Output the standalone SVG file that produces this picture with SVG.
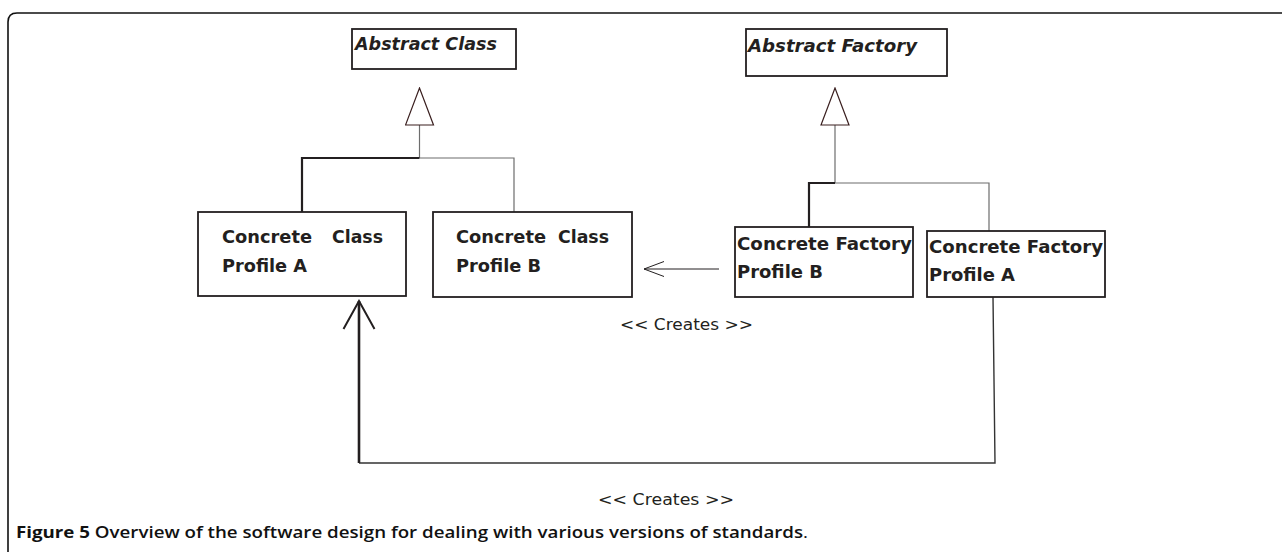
<svg xmlns="http://www.w3.org/2000/svg" width="1282" height="552" viewBox="0 0 1282 552">
<style>
.box{fill:#fff;stroke:#231f20;stroke-width:1.8}
.lbl{font-family:"DejaVu Sans","Verdana",sans-serif;font-weight:bold;font-size:18px;fill:#231f20}
.abs{font-family:"DejaVu Sans","Verdana",sans-serif;font-weight:bold;font-style:italic;font-size:18px;fill:#231f20}
.cr{font-family:"DejaVu Sans","Tahoma",sans-serif;font-size:16px;fill:#231f20}
.thick{fill:none;stroke:#231f20;stroke-width:2.2}
.thin{fill:none;stroke:#6d6d6d;stroke-width:1.2}
.mid{fill:none;stroke:#333;stroke-width:1.4}
.cap{font-family:"Open Sans","Noto Sans",sans-serif;font-size:16px;fill:#111}
</style>
<defs>
<marker id="gen" viewBox="-1 -1 39 30" refX="0" refY="14" markerWidth="39" markerHeight="30" markerUnits="userSpaceOnUse" orient="auto">
<path d="M0,0 L37,14 L0,28 Z" fill="#fff" stroke="#3a1f1f" stroke-width="1.2"/>
</marker>
<marker id="openBig" viewBox="-2 -2 32 36" refX="28" refY="15.5" markerWidth="32" markerHeight="36" markerUnits="userSpaceOnUse" orient="auto">
<path d="M0,0 L28,15.5 L0,31" fill="none" stroke="#231f20" stroke-width="2"/>
</marker>
<marker id="openSmall" viewBox="-2 -2 24 20" refX="20" refY="7.5" markerWidth="24" markerHeight="20" markerUnits="userSpaceOnUse" orient="auto">
<path d="M0,0 L20,7.5 L0,15" fill="none" stroke="#231f20" stroke-width="1"/>
</marker>
</defs>
<rect width="1282" height="552" fill="#fff"/>
<path d="M8,552 V22 Q8,13 17,13 H1282" fill="none" stroke="#111" stroke-width="1.6"/>

<g id="connectors">
<path class="thin" d="M419.5,158 V125" marker-end="url(#gen)"/>
<path class="thick" d="M302,212 V158 H419.5"/>
<path class="thin" d="M419.5,158 H514 V212"/>
<path class="thin" d="M835,183 V125" marker-end="url(#gen)"/>
<path class="thick" d="M809,227 V183 H835"/>
<path class="thin" d="M835,183 H989 V231"/>
<path d="M719,269 H644" fill="none" stroke="#231f20" stroke-width="1" marker-end="url(#openSmall)"/>
<path class="mid" d="M993,297 L995,463 H359"/>
<path d="M359,463 V301" fill="none" stroke="#231f20" stroke-width="2.6" marker-end="url(#openBig)"/>
</g>

<g id="abstract-class">
<rect class="box" x="352" y="29" width="164" height="40"/>
<text class="abs" x="355" y="50" textLength="142" lengthAdjust="spacingAndGlyphs">Abstract Class</text>
</g>
<g id="abstract-factory">
<rect class="box" x="746" y="29" width="201" height="47"/>
<text class="abs" x="748" y="52" textLength="169" lengthAdjust="spacingAndGlyphs">Abstract Factory</text>
</g>
<g id="concrete-class-a">
<rect class="box" x="198" y="212" width="208" height="84"/>
<text class="lbl" x="222" y="243"><tspan textLength="90" lengthAdjust="spacingAndGlyphs">Concrete</tspan> <tspan x="332" textLength="51" lengthAdjust="spacingAndGlyphs">Class</tspan></text>
<text class="lbl" x="222" y="272" textLength="85" lengthAdjust="spacingAndGlyphs">Profile A</text>
</g>
<g id="concrete-class-b">
<rect class="box" x="433" y="212" width="199" height="85"/>
<text class="lbl" x="456" y="243"><tspan textLength="90" lengthAdjust="spacingAndGlyphs">Concrete</tspan> <tspan x="558" textLength="51" lengthAdjust="spacingAndGlyphs">Class</tspan></text>
<text class="lbl" x="456" y="272" textLength="85" lengthAdjust="spacingAndGlyphs">Profile B</text>
</g>
<g id="concrete-factory-b">
<rect class="box" x="735" y="227" width="178" height="70"/>
<text class="lbl" x="737" y="250" textLength="175" lengthAdjust="spacingAndGlyphs">Concrete Factory</text>
<text class="lbl" x="737" y="278" textLength="86" lengthAdjust="spacingAndGlyphs">Profile B</text>
</g>
<g id="concrete-factory-a">
<rect class="box" x="927" y="231" width="178" height="66"/>
<text class="lbl" x="929" y="253" textLength="174" lengthAdjust="spacingAndGlyphs">Concrete Factory</text>
<text class="lbl" x="929" y="281" textLength="86" lengthAdjust="spacingAndGlyphs">Profile A</text>
</g>

<g id="labels">
<text class="cr" x="620" y="330" textLength="133" lengthAdjust="spacingAndGlyphs">&lt;&lt; Creates &gt;&gt;</text>
<text class="cr" x="598" y="505" textLength="136" lengthAdjust="spacingAndGlyphs">&lt;&lt; Creates &gt;&gt;</text>
</g>

<text class="cap" x="16" y="538" textLength="792" lengthAdjust="spacingAndGlyphs"><tspan font-weight="700">Figure 5</tspan><tspan font-weight="600"> Overview of the software design for dealing with various versions of standards</tspan><tspan font-weight="400">.</tspan></text>
</svg>
